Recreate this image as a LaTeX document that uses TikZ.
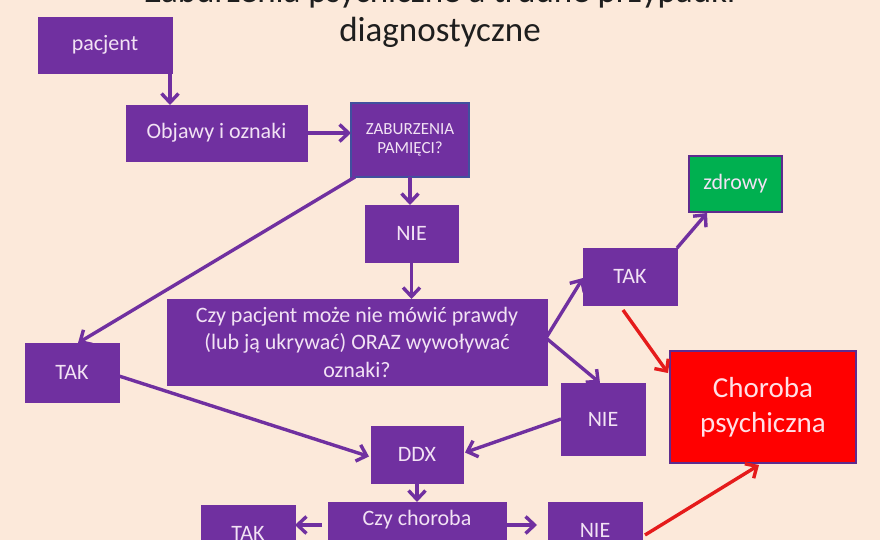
\documentclass[tikz,border=0pt]{standalone}
\usepackage{fontspec}
\setmainfont{Carlito}
\usetikzlibrary{arrows.meta}
\definecolor{bg}{HTML}{FCE9DA}
\definecolor{purp}{HTML}{7030A0}
\definecolor{ptext}{HTML}{F2E2F4}
\definecolor{zabline}{HTML}{41509E}
\definecolor{grn}{HTML}{00B050}
\definecolor{boxline}{HTML}{5E2C8E}
\definecolor{red1}{HTML}{FF0000}
\definecolor{redarr}{HTML}{E51B1B}
\definecolor{chtext}{HTML}{FFE0E6}
\definecolor{titlec}{HTML}{1E1E1E}
\begin{document}
\begin{tikzpicture}[x=1pt,y=-1pt,
  box/.style={fill=purp, draw=purp, line width=0.5pt, text=ptext,
    font=\fontsize{22}{27.5}\selectfont, align=center, inner sep=0pt, outer sep=0pt},
  boxtxt/.style={text=ptext, font=\fontsize{22}{27.5}\selectfont, align=center, inner sep=0pt},
  arr/.style={draw=purp, line width=3.4pt, -{Straight Barb[length=9pt,width=17pt]}},
  rarr/.style={arr, draw=redarr},
  titletxt/.style={font=\fontsize{35}{42}\selectfont, text=titlec, anchor=base, inner sep=0pt}]
\fill[bg] (0,0) rectangle (880,540);
\useasboundingbox (0,0) rectangle (880,540);
\begin{scope}
\clip (0,0) rectangle (880,540);
% title
\node[titletxt] (t1) at (440,2.5) {Zaburzenia psychiczne a trudne przypadki};
\node[titletxt] (t2) at (440,42) {diagnostyczne};
% boxes
\node[box, minimum width=134pt, minimum height=56pt] (pacjent) at (105,45) {pacjent};
\node[box, minimum width=181pt, minimum height=56pt] (objawy) at (216.5,133) {Objawy i oznaki};
\node[box, draw=zabline, line width=1.5pt, minimum width=118pt, minimum height=74pt,
  font=\fontsize{17}{18.5}\selectfont] (zab) at (410,140) {ZABURZENIA\\PAMIĘCI?};
\node[box, minimum width=93pt, minimum height=57pt] (nie1) at (411.5,233.5) {NIE};
\node[box, minimum width=380pt, minimum height=86pt] (czy) at (357,342)
  {Czy pacjent może nie mówić prawdy\\(lub ją ukrywać) ORAZ wywoływać\\oznaki?};
\node[box, minimum width=94pt, minimum height=59pt] (takL) at (72,372.5) {TAK};
\node[box, minimum width=94pt, minimum height=57pt] (takR) at (630,276.5) {TAK};
\node[box, fill=grn, draw=boxline, line width=1.5pt, minimum width=93pt, minimum height=56pt] (zdrowy) at (735.5,184) {zdrowy};
\node[box, fill=red1, draw=boxline, line width=1.5pt, text=chtext, minimum width=186pt, minimum height=112pt,
  font=\fontsize{29}{35}\selectfont] (choroba) at (763,407) {Choroba\\psychiczna};
\node[box, minimum width=84pt, minimum height=72pt] (nie2) at (603,419) {NIE};
\node[box, minimum width=92pt, minimum height=57pt] (ddx) at (417,454.5) {DDX};
\node[box, minimum width=178pt, minimum height=86pt] (czych) at (417,545) {};
\node[boxtxt, anchor=base] (czychtxt) at (417,525) {Czy choroba};
\node[box, minimum width=94pt, minimum height=57pt] (takB) at (248,533.5) {TAK};
\node[box, minimum width=94pt, minimum height=57pt] (nieB) at (595,530.5) {NIE};
% connectors
\coordinate (p1) at ([xshift=-2pt]pacjent.south east);
\draw[arr] (p1) -- (p1 |- objawy.north);
\draw[arr] (objawy.east) -- (objawy.east -| zab.west);
\draw[arr] (zab.south) -- (zab.south |- nie1.north);
\draw[arr] ([xshift=4pt]zab.south west) -- ([xshift=6pt]takL.north);
\draw[arr] (nie1.south) -- (nie1.south |- czy.north);
\coordinate (cr) at ([xshift=-1pt,yshift=4pt]czy.east);
\draw[arr] (cr) -- ([yshift=-1.5pt]takR.west);
\draw[arr] (cr) -- ([xshift=-3pt]nie2.north);
\draw[arr] (takR.north east) -- ([xshift=18pt,yshift=-1pt]zdrowy.south west);
\draw[rarr] ([xshift=-7pt,yshift=-5pt]takR.south) -- ([xshift=-2pt,yshift=-22pt]choroba.north west);
\draw[arr] ([yshift=-3.5pt]takL.east) -- ([xshift=-2pt,yshift=-2pt]ddx.west);
\draw[arr] (nie2.west) -- ([xshift=2pt,yshift=2pt]ddx.east);
\draw[arr] (ddx.south) -- (ddx.south |- czych.north);
\coordinate (c1) at ([xshift=-6pt,yshift=-23pt]czych.north west);
\draw[arr] (c1) -- (c1 -| takB.east);
\coordinate (c2) at ([xshift=1pt,yshift=-23pt]czych.north east);
\draw[arr, shorten >=11pt] (c2) -- (c2 -| nieB.west);
\draw[rarr] ([xshift=3pt,yshift=-4.5pt]nieB.east) -- ([xshift=-4pt,yshift=-2pt]choroba.south);
\end{scope}
\end{tikzpicture}
\end{document}
